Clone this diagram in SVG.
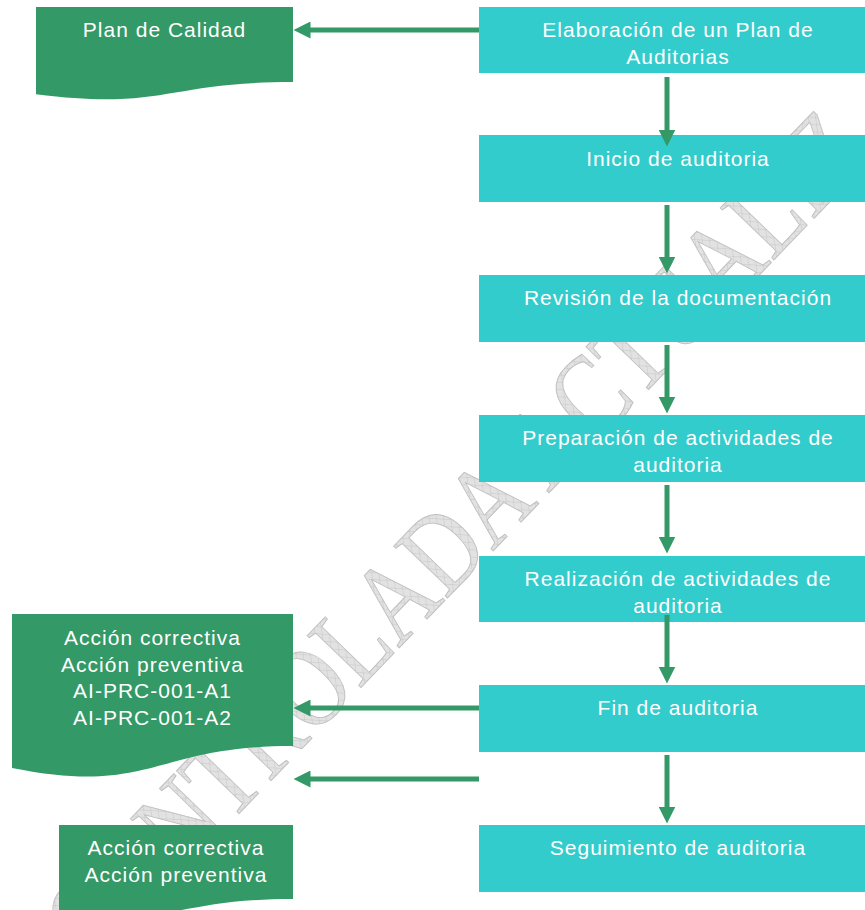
<svg xmlns="http://www.w3.org/2000/svg" width="865" height="910" viewBox="0 0 865 910">
<defs>
<pattern id="hatch" patternUnits="userSpaceOnUse" width="8" height="8" patternTransform="rotate(-46)">
<rect width="8" height="8" fill="#e2e2e2"/>
<path d="M0,0 H8 M0,0 V8" stroke="#bdbdbd" stroke-width="0.8"/>
</pattern>
<marker id="ah" viewBox="0 0 17 17" refX="0.5" refY="8.5" markerWidth="17" markerHeight="17" markerUnits="userSpaceOnUse" orient="auto">
<path d="M0,0 L17,8.5 L0,17 Z" fill="#339966"/>
</marker>
<style>
.proc{fill:#33CCCC}
.doc{fill:#339966}
.lbl{font-family:"Liberation Sans",Arial,sans-serif;font-size:21px;letter-spacing:1px;fill:#ffffff;text-anchor:middle}
.conn{stroke:#339966;stroke-width:5;fill:none;marker-end:url(#ah)}
.wm{font-family:"Liberation Serif","Times New Roman",serif;font-size:114px;fill:url(#hatch);stroke:#c0c0c0;stroke-width:1}
</style>
</defs>
<rect width="865" height="910" fill="#ffffff"/>
<g id="watermark">
<text class="wm" transform="translate(92,966) rotate(-46) scale(0.82,1)">CONTROLADA ACTUALIZ</text>
</g>
<g id="n1"><rect class="proc" x="479" y="7" width="386" height="66"/>
<text class="lbl" x="678" y="37">Elaboración de un Plan de</text>
<text class="lbl" x="678" y="64">Auditorias</text></g>
<g id="n2"><rect class="proc" x="479" y="135" width="386" height="67"/>
<text class="lbl" x="678" y="166">Inicio de auditoria</text></g>
<g id="n3"><rect class="proc" x="479" y="275" width="386" height="67"/>
<text class="lbl" x="678" y="305">Revisión de la documentación</text></g>
<g id="n4"><rect class="proc" x="479" y="415" width="386" height="67"/>
<text class="lbl" x="678" y="445">Preparación de actividades de</text>
<text class="lbl" x="678" y="472">auditoria</text></g>
<g id="n5"><rect class="proc" x="479" y="556" width="386" height="66"/>
<text class="lbl" x="678" y="586">Realización de actividades de</text>
<text class="lbl" x="678" y="613">auditoria</text></g>
<g id="n6"><rect class="proc" x="479" y="685" width="386" height="67"/>
<text class="lbl" x="678" y="715">Fin de auditoria</text></g>
<g id="n7"><rect class="proc" x="479" y="825" width="386" height="67"/>
<text class="lbl" x="678" y="855">Seguimiento de auditoria</text></g>
<g id="d1"><path class="doc" d="M36,7 H293 V82 C164.5,82 164.5,110.5 36,94.3 Z"/>
<text class="lbl" x="164.5" y="37">Plan de Calidad</text></g>
<g id="d2"><path class="doc" d="M12,614 H293 V746 C152.5,746 152.5,796 12,768 Z"/>
<text class="lbl" x="152.5" y="645">Acción correctiva</text>
<text class="lbl" x="152.5" y="671.5">Acción preventiva</text>
<text class="lbl" x="152.5" y="698">AI-PRC-001-A1</text>
<text class="lbl" x="152.5" y="724.5">AI-PRC-001-A2</text></g>
<g id="d3"><path class="doc" d="M59,825 H293 V899 C176,899 176,927 59,911 Z"/>
<text class="lbl" x="176" y="855">Acción correctiva</text>
<text class="lbl" x="176" y="882">Acción preventiva</text></g>
<g id="connectors">
<line class="conn" x1="479" y1="30" x2="310" y2="30"/>
<line class="conn" x1="667" y1="77" x2="667" y2="130"/>
<line class="conn" x1="667" y1="205" x2="667" y2="257"/>
<line class="conn" x1="667" y1="345" x2="667" y2="397"/>
<line class="conn" x1="667" y1="485" x2="667" y2="537"/>
<line class="conn" x1="667" y1="615" x2="667" y2="667"/>
<line class="conn" x1="667" y1="755" x2="667" y2="807"/>
<line class="conn" x1="479" y1="708" x2="310" y2="708"/>
<line class="conn" x1="479" y1="779" x2="310" y2="779"/>
</g>
</svg>
